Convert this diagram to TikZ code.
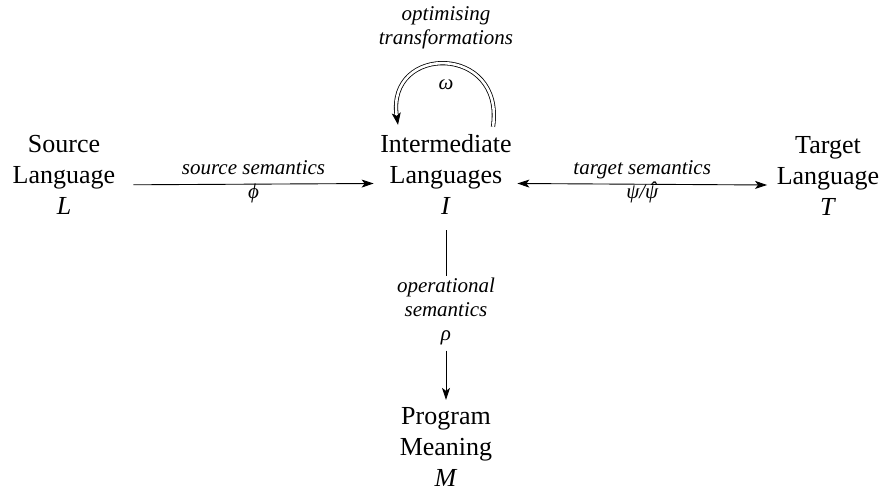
\documentclass[tikz,border=0pt]{standalone}
\usepackage{fontspec}
\setmainfont{Liberation Serif}
\usetikzlibrary{arrows.meta}
% psi with a circumflex set above it
\newcommand{\psihat}{{\setbox0\hbox{ψ}\rlap{ψ}\raisebox{0.1em}{\makebox[\wd0]{\hspace{0.12em}\char"02C6}}}}
\begin{document}
\tikzset{
  term/.style={align=center, inner sep=3pt, font=\fontsize{26}{31}\selectfont},
  lbl/.style={align=center, inner sep=0pt, font=\fontsize{21}{24}\selectfont\itshape},
  sym/.style={inner sep=0pt, font=\fontsize{21}{24}\selectfont\itshape},
  arr/.style={line width=0.9pt, -{Stealth[length=12pt,width=8pt,inset=3pt]}},
  biarr/.style={line width=0.9pt, {Stealth[length=12pt,width=8pt,inset=3pt]}-{Stealth[length=12pt,width=8pt,inset=3pt]}},
  plain/.style={line width=0.9pt},
  loopline/.style={double, line width=0.8pt, double distance=2.6pt,
    -{Stealth[length=12pt,width=9pt,inset=3pt]}},
}
\begin{tikzpicture}[x=1pt,y=-1pt]
\useasboundingbox (0,0) rectangle (884,494);

% languages and meaning
\node[term] (L) at (64,175.3)  {Source\\Language\\\textit{L}};
\node[term] (I) at (446,174)   {Intermediate\\Languages\\\textit{I}};
\node[term] (T) at (828,175.5) {Target\\Language\\\textit{T}};
\node[term] (M) at (446,447.4) {Program\\Meaning\\\textit{M}};

% labels for the loop and the vertical connector
\node[lbl] (opt) at (446,27.8) {optimising\\transformations};
\node[sym] (om)  at (446,84.5) {ω};
\node[lbl] (op)  at (446,311.5) {operational\\semantics\\ρ};

% source semantics
\draw[arr] ([xshift=15pt,yshift=-9.5pt]L.east) -- ([xshift=-3.5pt,yshift=-9.5pt]I.west)
  node[sym, midway, anchor=base, yshift=10pt] {source semantics}
  node[sym, midway, anchor=base, yshift=-14pt] {ϕ};

% target semantics
\draw[biarr] ([xshift=2.5pt,yshift=-9.5pt]I.east) -- ([xshift=-6.5pt,yshift=-9.5pt]T.west)
  node[sym, midway, anchor=base, yshift=10pt] {target semantics}
  node[sym, midway, anchor=base, yshift=-14pt] {ψ/\psihat};

% operational semantics
\draw[plain] ([yshift=-13pt]I.south) -- ([yshift=1.5pt]op.north);
\draw[arr] ([yshift=-5.4pt]op.south) -- ([yshift=4.8pt]M.north);

% optimising transformations loop
\draw[loopline] ([shift={(47,-4)}]I.north) .. controls +(12,-83) and +(-12,-81) .. ([shift={(-48,-6)}]I.north);
\end{tikzpicture}
\end{document}
